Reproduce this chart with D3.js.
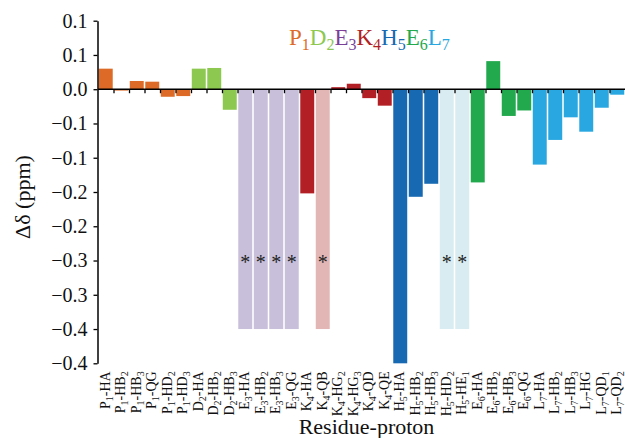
<!DOCTYPE html>
<html>
<head>
<meta charset="utf-8">
<script src="https://cdn.jsdelivr.net/npm/d3@7"></script>
<style>
  html, body { margin: 0; padding: 0; background: #fff; }
  svg { display: block; font-family: "Liberation Serif", "DejaVu Serif", serif; }
</style>
</head>
<body>
<svg id="chart" width="625" height="438"></svg>
<script>
// Residue-proton chemical shift differences (ppm)
const categories = [
  "P1-HA", "P1-HB2", "P1-HB3", "P1-QG", "P1-HD2", "P1-HD3",
  "D2-HA", "D2-HB2", "D2-HB3",
  "E3-HA", "E3-HB2", "E3-HB3", "E3-QG",
  "K4-HA", "K4-QB", "K4-HG2", "K4-HG3", "K4-QD", "K4-QE",
  "H5-HA", "H5-HB2", "H5-HB3", "H5-HD2", "H5-HE1",
  "E6-HA", "E6-HB2", "E6-HB3", "E6-QG",
  "L7-HA", "L7-HB2", "L7-HB3", "L7-HG", "L7-QD1", "L7-QD2"
];
const values = [
  0.030, -0.002, 0.012, 0.011, -0.011, -0.010,
  0.030, 0.031, -0.030,
  -0.35, -0.35, -0.35, -0.35,
  -0.152, -0.35, 0.003, 0.008, -0.013, -0.024,
  -0.40, -0.157, -0.138, -0.35, -0.35,
  -0.136, 0.041, -0.039, -0.031,
  -0.110, -0.074, -0.041, -0.062, -0.027, -0.008
];
// Protons marked with an asterisk (not observed)
const flagged = [
  false, false, false, false, false, false,
  false, false, false,
  true, true, true, true,
  false, true, false, false, false, false,
  false, false, false, true, true,
  false, false, false, false,
  false, false, false, false, false, false
];
const residues = ["P1", "D2", "E3", "K4", "H5", "E6", "L7"];
const yTickValues = [0.1, 0.05, 0, -0.05, -0.1, -0.15, -0.2, -0.25, -0.3, -0.35, -0.4];
const yTickLabels = ["0.1", "0.1", "0.0", "\u22120.1", "\u22120.1", "\u22120.2", "\u22120.2", "\u22120.3", "\u22120.3", "\u22120.4", "\u22120.4"];
const asteriskLevel = -0.262;

// Colours per residue (solid bars / legend) and pale tones for marked bars
const residueColor = {
  P1: "#dd6b27", D2: "#8dc850", E3: "#7b3f98", K4: "#b21f25",
  H5: "#1769b2", E6: "#22a84d", L7: "#28a7e0"
};
const barColor = { ...residueColor, E3: "#c8bfdb" };
const paleColor = { E3: "#c8bfdb", K4: "#e3b6b6", H5: "#d9ecf2" };

const svg = d3.select("#chart");
const margin = { left: 98, right: 0, top: 20.7, bottom: 74.7 };
const W = 625, H = 438;

const x = d3.scaleBand()
  .domain(categories)
  .range([margin.left, W - margin.right])
  .paddingInner(0.1)
  .paddingOuter(0.05);

const y = d3.scaleLinear()
  .domain([-0.4, 0.1])
  .range([H - margin.bottom, margin.top]);

const data = categories.map((c, i) => ({
  cat: c,
  res: c.split("-")[0],
  value: values[i],
  flag: flagged[i]
}));

// Bars
svg.append("g")
  .selectAll("rect")
  .data(data)
  .join("rect")
  .attr("x", d => x(d.cat))
  .attr("width", x.bandwidth())
  .attr("y", d => y(Math.max(0, d.value)))
  .attr("height", d => Math.abs(y(d.value) - y(0)))
  .attr("fill", d => d.flag ? paleColor[d.res] : barColor[d.res]);

// Asterisks on marked bars
svg.append("g")
  .selectAll("text")
  .data(data.filter(d => d.flag))
  .join("text")
  .attr("x", d => x(d.cat) + x.bandwidth() / 2)
  .attr("y", y(asteriskLevel))
  .attr("text-anchor", "middle")
  .attr("font-size", 20)
  .attr("fill", "#222")
  .text("*");

// Y axis
const yAxis = svg.append("g")
  .attr("transform", `translate(${margin.left - 0.5},0)`)
  .call(d3.axisLeft(y)
    .tickValues(yTickValues)
    .tickFormat((d, i) => yTickLabels[i])
    .tickSize(4)
    .tickSizeOuter(0)
    .tickPadding(6));
yAxis.select(".domain").attr("stroke", "#000").attr("stroke-width", 1.5);
yAxis.selectAll(".tick line").attr("stroke", "#000").attr("stroke-width", 1.3);
yAxis.selectAll(".tick text")
  .attr("font-family", "Liberation Serif, serif")
  .attr("font-size", 20)
  .attr("fill", "#111");

// Zero line with boundary ticks between bars
const idx = d3.scaleLinear()
  .domain([0, categories.length])
  .range([x(categories[0]) - x.step() * x.paddingInner() / 2,
          x(categories[categories.length - 1]) + x.bandwidth() + x.step() * x.paddingInner() / 2]);
const zeroAxis = svg.append("g")
  .attr("transform", `translate(0,${y(0)})`)
  .call(d3.axisBottom(idx)
    .tickValues(d3.range(1, categories.length))
    .tickFormat("")
    .tickSize(4)
    .tickSizeOuter(0));
zeroAxis.select(".domain")
  .attr("d", `M${margin.left},0H${W}`)
  .attr("stroke", "#000").attr("stroke-width", 1.5);
zeroAxis.selectAll(".tick line").attr("stroke", "#000").attr("stroke-width", 1.3);

// Category labels (rotated), digits drawn as subscripts
const xLabels = svg.append("g");
data.forEach(d => {
  const cx = x(d.cat) + x.bandwidth() / 2;
  const t = xLabels.append("text")
    .attr("transform", `translate(${cx + 4},${y(-0.4) + 8}) rotate(-90)`)
    .attr("text-anchor", "end")
    .attr("font-size", 14)
    .attr("fill", "#111");
  const parts = d.cat.match(/[A-Za-z-]+|\d+/g);
  let sub = false;
  parts.forEach(p => {
    const isNum = /^\d+$/.test(p);
    const ts = t.append("tspan").text(p);
    if (isNum) { ts.attr("font-size", 10).attr("dy", 3); sub = true; }
    else if (sub) { ts.attr("dy", -3); sub = false; }
  });
});

// Axis titles
svg.append("text")
  .attr("transform", `translate(30,${(y(0.1) + y(-0.4)) / 2 + 5}) rotate(-90)`)
  .attr("text-anchor", "middle")
  .attr("font-size", 22)
  .attr("fill", "#111")
  .text("\u0394\u03b4 (ppm)");

svg.append("text")
  .attr("x", (margin.left + W) / 2 + 5)
  .attr("y", 434)
  .attr("text-anchor", "middle")
  .attr("font-size", 22)
  .attr("fill", "#111")
  .text("Residue-proton");

// Residue legend
const legend = svg.append("text")
  .attr("x", 289)
  .attr("y", 45)
  .attr("font-size", 23);
residues.forEach((r, i) => {
  legend.append("tspan").attr("fill", residueColor[r])
    .attr("dy", i === 0 ? 0 : -5).text(r[0]);
  legend.append("tspan").attr("fill", residueColor[r])
    .attr("font-size", 16).attr("dy", 5).text(r.slice(1));
});
</script>
</body>
</html>
